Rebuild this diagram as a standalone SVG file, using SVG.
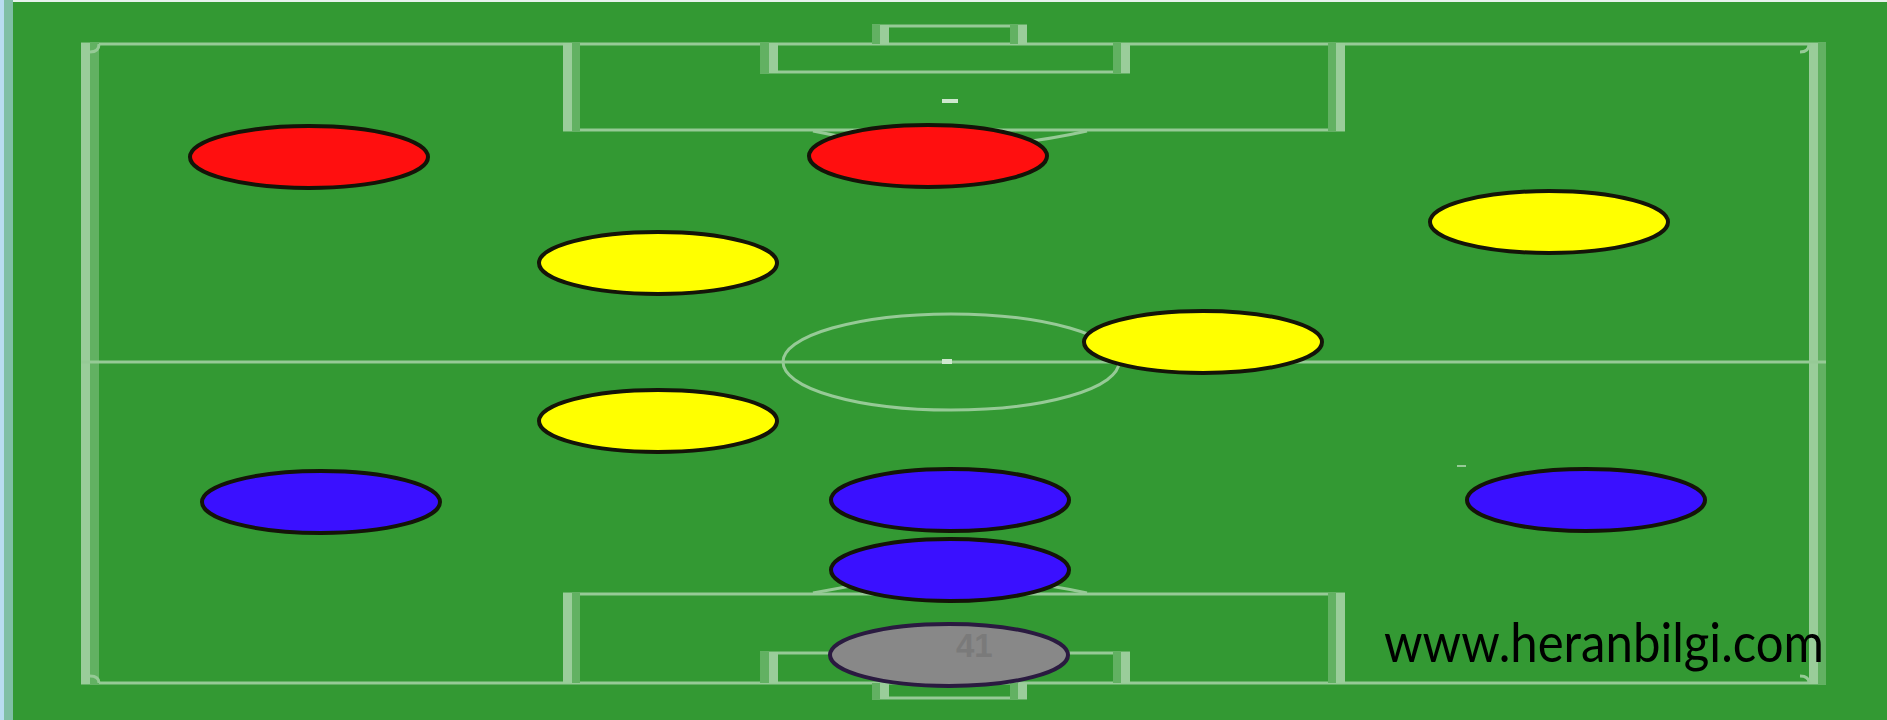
<svg xmlns="http://www.w3.org/2000/svg" width="1887" height="720" viewBox="0 0 1887 720">
<style>
.ln{fill:none;stroke:#96ca96;stroke-width:3}
.vb{fill:#9acd9a}
.vd{fill:#62b162}
.pl{stroke:#141408;stroke-width:4}
.red{fill:#ff0f0f}
.yel{fill:#ffff00}
.blu{fill:#3a10ff}
.gry{fill:#888888;stroke:#2a1a40}
</style>
<g id="pitch">
<rect x="0" y="0" width="1887" height="720" fill="#339933"/>
<rect x="0" y="0" width="4" height="720" fill="#b8dcf0"/>
<rect x="4" y="0" width="9" height="720" fill="#7fbfa5"/>
<rect x="13" y="0" width="1874" height="2" fill="#e8f2ec"/>
<line class="ln" x1="81" y1="44" x2="1826" y2="44"/>
<line class="ln" x1="81" y1="683" x2="1826" y2="683"/>
<rect class="vb" x="81" y="43" width="9" height="641"/>
<rect class="vd" x="90" y="43" width="9" height="641"/>
<rect class="vb" x="1809" y="43" width="9" height="641"/>
<rect class="vd" x="1818" y="43" width="8" height="641"/>
<line class="ln" x1="81" y1="362" x2="1826" y2="362"/>
<ellipse class="ln" cx="951" cy="362" rx="168" ry="48"/>
<rect x="942" y="359" width="10" height="5" fill="#cfe8cf"/>
<line class="ln" x1="563" y1="130" x2="1345" y2="130"/>
<rect class="vb" x="563" y="43" width="9" height="88"/>
<rect class="vd" x="572" y="43" width="8" height="88"/>
<rect class="vd" x="1328" y="43" width="8" height="88"/>
<rect class="vb" x="1336" y="43" width="9" height="88"/>
<line class="ln" x1="760" y1="72" x2="1130" y2="72"/>
<rect class="vd" x="760" y="43" width="9" height="30"/>
<rect class="vb" x="769" y="43" width="9" height="30"/>
<rect class="vd" x="1113" y="43" width="8" height="30"/>
<rect class="vb" x="1121" y="43" width="9" height="30"/>
<line class="ln" x1="872" y1="26" x2="1027" y2="26"/>
<rect class="vd" x="872" y="25" width="8" height="19"/>
<rect class="vb" x="880" y="25" width="9" height="19"/>
<rect class="vd" x="1010" y="25" width="8" height="19"/>
<rect class="vb" x="1018" y="25" width="9" height="19"/>
<rect x="942" y="99" width="16" height="4" fill="#cfe8cf"/>
<path class="ln" d="M813 131 Q950 162 1087 131"/>
<line class="ln" x1="563" y1="594" x2="1345" y2="594"/>
<rect class="vb" x="563" y="593" width="9" height="90"/>
<rect class="vd" x="572" y="593" width="8" height="90"/>
<rect class="vd" x="1328" y="593" width="8" height="90"/>
<rect class="vb" x="1336" y="593" width="9" height="90"/>
<line class="ln" x1="760" y1="653" x2="1130" y2="653"/>
<rect class="vd" x="760" y="652" width="9" height="31"/>
<rect class="vb" x="769" y="652" width="9" height="31"/>
<rect class="vd" x="1113" y="652" width="8" height="31"/>
<rect class="vb" x="1121" y="652" width="9" height="31"/>
<line class="ln" x1="872" y1="698" x2="1027" y2="698"/>
<rect class="vd" x="872" y="683" width="8" height="16"/>
<rect class="vb" x="880" y="683" width="9" height="16"/>
<rect class="vd" x="1010" y="683" width="8" height="16"/>
<rect class="vb" x="1018" y="683" width="9" height="16"/>
<path class="ln" d="M813 593 Q950 564 1087 593"/>
<path class="ln" d="M99 44 Q99 52 90 52"/>
<path class="ln" d="M1809 44 Q1809 52 1800 52"/>
<path class="ln" d="M99 683 Q99 676 90 676"/>
<path class="ln" d="M1809 683 Q1809 676 1800 676"/>
<line x1="1457" y1="466" x2="1466" y2="466" stroke="#96ca96" stroke-width="2"/>
</g>
<g id="connectors"></g>
<g id="red-left"><ellipse class="pl red" cx="309" cy="157" rx="119" ry="31"/></g>
<g id="red-center"><ellipse class="pl red" cx="928" cy="156" rx="119" ry="31"/></g>
<g id="yellow-right-top"><ellipse class="pl yel" cx="1549" cy="222" rx="119" ry="31"/></g>
<g id="yellow-left-top"><ellipse class="pl yel" cx="658" cy="263" rx="119" ry="31"/></g>
<g id="yellow-center-right"><ellipse class="pl yel" cx="1203" cy="342" rx="119" ry="31"/></g>
<g id="yellow-left-low"><ellipse class="pl yel" cx="658" cy="421" rx="119" ry="31"/></g>
<g id="blue-left"><ellipse class="pl blu" cx="321" cy="502" rx="119" ry="31"/></g>
<g id="blue-center"><ellipse class="pl blu" cx="950" cy="500" rx="119" ry="31"/></g>
<g id="blue-right"><ellipse class="pl blu" cx="1586" cy="500" rx="119" ry="31"/></g>
<g id="blue-low"><ellipse class="pl blu" cx="950" cy="570" rx="119" ry="31"/></g>
<g id="keeper"><ellipse class="pl gry" cx="949" cy="655" rx="119" ry="31"/>
<text x="956" y="657" font-family="Liberation Sans, Arial, sans-serif" font-weight="bold" font-size="33" fill="#7a7a7a">41</text></g>
<g id="watermark"><text x="1384" y="662" font-family="Lato, 'Open Sans', sans-serif" font-size="54" fill="#000000" textLength="440" lengthAdjust="spacingAndGlyphs">www.heranbilgi.com</text></g>
</svg>
